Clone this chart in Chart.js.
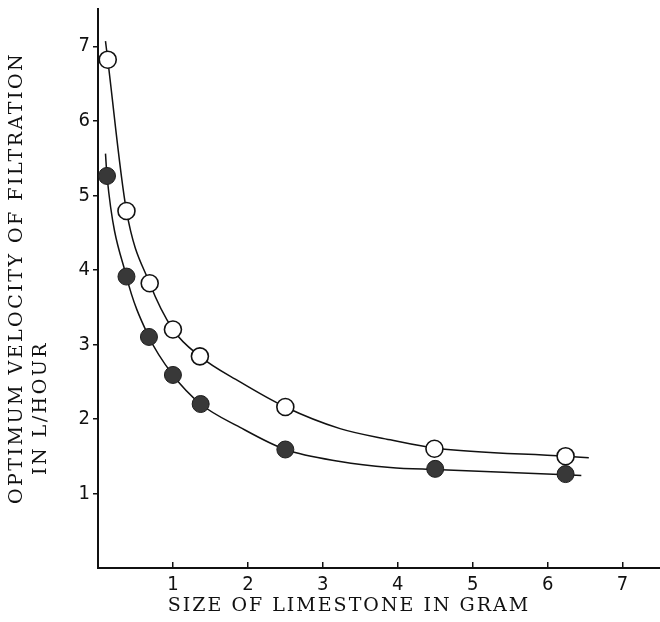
<!DOCTYPE html>
<html>
<head>
<meta charset="utf-8">
<script src="https://cdn.jsdelivr.net/npm/chart.js@4"></script>
<style>
    html, body {
        margin: 0;
        overflow: hidden;
        background: #fff;
    }
    canvas {
        display: block;
    }
</style>
</head>
<body>
<canvas id="filterChart" width="660" height="622"></canvas>
<script>
// measured points (open circles / filled circles)
const sizeOpen = [0.13, 0.38, 0.69, 1.0, 1.36, 2.5, 4.49, 6.24]
const velocityOpen = [6.82, 4.79, 3.82, 3.20, 2.84, 2.16, 1.60, 1.50]
const sizeFilled = [0.12, 0.38, 0.68, 1.0, 1.37, 2.5, 4.5, 6.24]
const velocityFilled = [5.26, 3.91, 3.10, 2.59, 2.20, 1.59, 1.33, 1.26]

// hand-drawn curves
const upperCurveX = [0.10, 0.13, 0.38, 0.69, 1.0, 1.36, 1.89, 2.5, 3.23, 3.9, 4.49, 6.24, 6.55]
const upperCurveY = [7.07, 6.82, 4.79, 3.82, 3.20, 2.84, 2.50, 2.16, 1.87, 1.72, 1.61, 1.50, 1.48]
const lowerCurveX = [0.10, 0.12, 0.38, 0.68, 1.0, 1.37, 1.89, 2.5, 3.23, 3.9, 4.5, 6.24, 6.45]
const lowerCurveY = [5.56, 5.26, 3.91, 3.10, 2.59, 2.20, 1.89, 1.59, 1.43, 1.35, 1.32, 1.25, 1.24]

const xTicks = [1, 2, 3, 4, 5, 6, 7]
const yTicks = [1, 2, 3, 4, 5, 6, 7]
const xTitle = 'SIZE OF LIMESTONE IN GRAM'
const yTitle = ['OPTIMUM VELOCITY OF FILTRATION', 'IN L/HOUR']

function toPoints(xs, ys) {
    return xs.map((x, i) => ({ x: x, y: ys[i] }))
}

const ink = '#111'
const tickFont = { family: "'Liberation Sans Narrow', 'DejaVu Sans Condensed', sans-serif", size: 20 }
const titleFont = "19px 'DejaVu Serif', serif"

// axis titles drawn by hand so they can be letter-spaced
function drawText(ctx, text, x, y, spacing, rotated) {
    ctx.save()
    ctx.fillStyle = ink
    ctx.font = titleFont
    ctx.letterSpacing = spacing
    ctx.textAlign = 'center'
    ctx.textBaseline = 'middle'
    ctx.translate(x, y)
    if (rotated) ctx.rotate(-Math.PI / 2)
    ctx.fillText(text, 0, 0)
    ctx.restore()
}

const titlePlugin = {
    id: 'titles',
    afterDraw(chart) {
        let ctx = chart.ctx
        drawText(ctx, xTitle, 349, 606, '2px', false)
        drawText(ctx, yTitle[0], 17, 278, '2.5px', true)
        drawText(ctx, yTitle[1], 41, 408, '2.5px', true)
    }
}

let ctx = document.getElementById('filterChart').getContext('2d')
new Chart(ctx, {
    type: 'scatter',
    data: {
        datasets: [
            {
                label: 'open',
                data: toPoints(sizeOpen, velocityOpen),
                pointRadius: 8.5,
                pointBackgroundColor: '#fff',
                pointBorderColor: ink,
                pointBorderWidth: 1.6,
                order: 0
            },
            {
                label: 'filled',
                data: toPoints(sizeFilled, velocityFilled),
                pointRadius: 8.5,
                pointBackgroundColor: '#383838',
                pointBorderColor: '#1c1c1c',
                pointBorderWidth: 1,
                order: 0
            },
            {
                label: 'upper curve',
                data: toPoints(upperCurveX, upperCurveY),
                showLine: true,
                pointRadius: 0,
                borderColor: ink,
                borderWidth: 1.5,
                cubicInterpolationMode: 'monotone',
                order: 1
            },
            {
                label: 'lower curve',
                data: toPoints(lowerCurveX, lowerCurveY),
                showLine: true,
                pointRadius: 0,
                borderColor: ink,
                borderWidth: 1.5,
                cubicInterpolationMode: 'monotone',
                order: 1
            }
        ]
    },
    options: {
        responsive: false,
        animation: false,
        layout: {
            autoPadding: false,
            padding: { top: 9, right: 0, bottom: 0, left: 0 }
        },
        plugins: {
            legend: { display: false },
            tooltip: { enabled: false }
        },
        scales: {
            x: {
                type: 'linear',
                min: 0,
                max: 7.5,
                afterBuildTicks: (scale) => {
                    scale.ticks = xTicks.map(v => ({ value: v }))
                },
                afterFit: (scale) => {
                    scale.height = 54
                    scale.paddingLeft = 0
                    scale.paddingRight = 0
                },
                border: { display: true, color: ink, width: 2 },
                grid: { drawOnChartArea: false, color: ink, tickLength: -6, lineWidth: 1.5 },
                ticks: { color: ink, font: tickFont, padding: 11, maxRotation: 0 }
            },
            y: {
                type: 'linear',
                min: 0,
                max: 7.5,
                afterBuildTicks: (scale) => {
                    scale.ticks = yTicks.map(v => ({ value: v }))
                },
                afterFit: (scale) => {
                    scale.width = 98
                    scale.paddingTop = 0
                    scale.paddingBottom = 0
                },
                border: { display: true, color: ink, width: 2 },
                grid: { drawOnChartArea: false, color: ink, tickLength: 5, lineWidth: 1.5 },
                ticks: { color: ink, font: tickFont, padding: 3 }
            }
        }
    },
    plugins: [titlePlugin]
})
</script>
</body>
</html>
